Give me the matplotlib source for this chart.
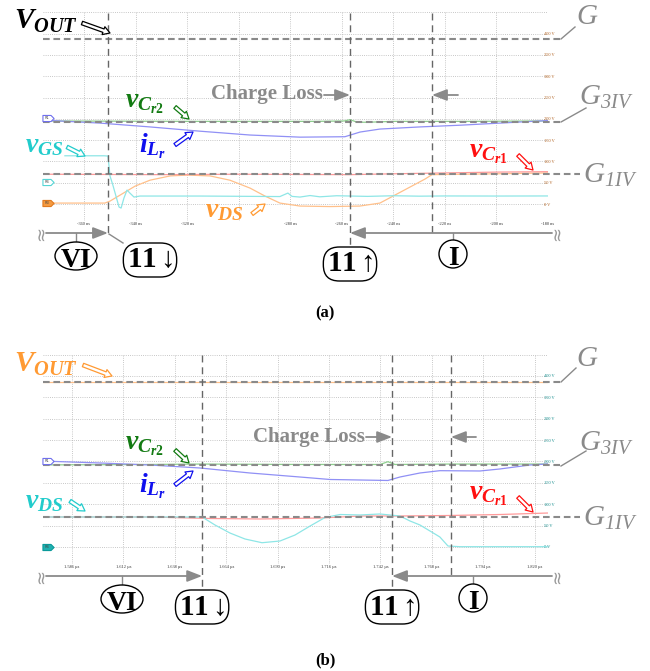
import numpy as np
import matplotlib
matplotlib.use('Agg')
import matplotlib.pyplot as plt
from matplotlib.patches import FancyArrowPatch, Ellipse
from matplotlib.path import Path

plt.rcParams['font.family'] = ['Liberation Serif', 'DejaVu Sans']
plt.rcParams['mathtext.fontset'] = 'custom'
plt.rcParams['mathtext.it'] = 'Liberation Serif:italic:bold'
plt.rcParams['mathtext.rm'] = 'Liberation Serif:bold'
plt.rcParams['mathtext.bf'] = 'Liberation Serif:bold'
plt.rcParams['mathtext.sf'] = 'Liberation Serif:italic'

# ---------------- shared scope scale ----------------
volt_ticks = [0, 50, 100, 150, 200, 250, 300, 350, 400, 450]
volt_labels = ['0 V', '50 V', '100 V', '150 V', '200 V', '250 V', '300 V', '350 V', '400 V', '']

# ---------------- panel (a): time in ns ----------------
a_xlim = (-375.9, -180.0)
a_xticks = [-360, -340, -320, -300, -280, -260, -240, -220, -200, -180]
a_xlabels = ['-360 ns', '-340 ns', '-320 ns', '', '-280 ns', '-260 ns',
             '-240 ns', '-220 ns', '-200 ns', '-180 ns']
a_events = [-350.7, -256.8, -225.0]
a_G, a_G3, a_G1 = 387, 193, 70

a_vcr2_t = [-375.9, -320, -270, -259, -256.8, -254, -250, -240, -210, -180]
a_vcr2_v = [195, 194, 194, 195, 198, 192, 192, 194, 194, 195]

a_ilr_t = [-375.9, -353.8, -334.4, -315.0, -295.6, -276.2, -258.8, -252.9,
           -245.2, -229.7, -214.2, -198.6, -180.0]
a_ilr_v = [197, 190, 181, 171, 162, 157, 158, 169, 176, 181, 185, 190, 196]

a_vgs_t = [-367.4, -352.2, -350.7, -349.9, -348.8, -347.6, -346.4, -345.6,
           -344.5, -343.3, -342.2, -340.6, -338.3, -315.0, -284.0, -280.9,
           -279.3, -276.2, -272.3, -268.5, -262, -250, -240, -230, -220, -200, -180]
a_vgs_v = [113.3, 113.3, 112.6, 65.7, 44.6, 18.8, -7.0, -9.4, 14.1, 32.8, 25.8,
           16.4, 18.8, 18.8, 17.6, 25.8, 18.0, 16.4, 20.0, 17.0, 19.5, 18.0,
           19.5, 18.5, 19.0, 18.8, 19.0]

a_vds_t = [-375.9, -351.9, -349.9, -346.0, -340.2, -334.4, -326.6, -319.7,
           -311.1, -303.4, -295.6, -289.8, -284.0, -276.2, -264.6, -253.0,
           -245.2, -239.4, -233.5, -227.7, -225.0, -200, -180]
a_vds_v = [2.3, 2.3, 7.0, 21.0, 42.0, 56.0, 66.0, 68.0, 66.0, 56.0, 37.5, 18.8,
           2.3, -4.7, -5.9, -4.7, 2.3, 21.0, 40.0, 58.7, 69.0, 71.0, 73.0]

a_vcr1_t = [-375.9, -330, -300, -257, -240, -220, -200, -180]
a_vcr1_v = [70, 69, 70, 69, 71, 73, 75, 76]

a_tags = [('R1', 201.8, '#7070ee', 'white'), ('R4', 51.6, '#55d5d5', 'white'),
          ('R3', 2.3, '#e07a20', '#f59a40')]

# ---------------- panel (b): time in ns ----------------
b_xlim = (1571.3, 1826.8)
b_xticks = [1586, 1612, 1638, 1664, 1690, 1716, 1742, 1768, 1794, 1820]
b_xlabels = ['1.586 µs', '1.612 µs', '1.638 µs', '1.664 µs', '1.690 µs',
             '1.716 µs', '1.742 µs', '1.768 µs', '1.794 µs', '1.820 µs']
b_events = [1651.8, 1747.9, 1777.7]
b_G, b_G3, b_G1 = 387, 192, 71

b_vout_t = [1571.3, 1650, 1750, 1826.8]
b_vout_v = [387, 387, 387, 387]

b_vcr2_t = [1571.3, 1625.5, 1650.7, 1701.3, 1741.8, 1745.8, 1749.4, 1777.2, 1826.8]
b_vcr2_v = [192, 193, 194, 193, 193, 199.5, 193, 194, 194]

b_ilr_t = [1571.3, 1600.2, 1625.5, 1650.7, 1676.0, 1701.3, 1716.5, 1745.8,
           1751.9, 1762.0, 1772.1, 1792.4, 1802.5, 1817.7, 1826.8]
b_ilr_v = [201, 196.5, 191.8, 184.8, 173.1, 163.7, 157.9, 155.6, 163.7, 173.1,
           178.5, 177.8, 182.5, 191.8, 194.2]

b_vds_t = [1571.3, 1651.8, 1658.3, 1665.9, 1673.5, 1682.1, 1691.2, 1698.8,
           1706.4, 1714.0, 1721.6, 1731.7, 1741.8, 1751.9, 1757.0, 1762.0,
           1767.1, 1772.1, 1776.2, 1782.3, 1826.8]
b_vds_v = [70.2, 70.2, 51.5, 32.7, 18.7, 10.0, 14.0, 28.0, 49.0, 69.0, 76.0,
           74.9, 77.2, 72.5, 60.8, 51.5, 37.4, 23.4, 2.3, 0.7, 0.7]

b_vcr1_t = [1571.3, 1625.5, 1655.8, 1681.1, 1711.4, 1731.7, 1751.9, 1777.2, 1802.5, 1826.8]
b_vcr1_v = [70.2, 70.2, 66.7, 65.5, 67.8, 72.5, 72.5, 73.7, 76.0, 79.5]

b_tags = [('R1', 201.0, '#7070ee', 'white'), ('R4', 0.7, '#0a9a9a', '#20b0b0')]

# ---------------- colours ----------------
c_blue_tr, c_green_tr, c_cyan_tr = '#9090f5', '#8fd08f', '#8ee6e6'
c_orange_tr, c_red_tr = '#ffc08a', '#ff9a9a'
c_gray = '#8a8a8a'
c_green, c_blue, c_cyan, c_orange, c_red = '#127a12', '#1010ee', '#22cccc', '#ff9a33', '#ff1010'

W, H = 650, 671
fig = plt.figure(figsize=(6.5, 6.71), dpi=100)


def rect(x0, y0, x1, y1):
    return [x0 / W, 1 - y1 / H, (x1 - x0) / W, (y1 - y0) / H]


axA = fig.add_axes(rect(43, 12.3, 548, 221.1))
axB = fig.add_axes(rect(43, 354.6, 548, 564.1))
ov = fig.add_axes([0, 0, 1, 1], zorder=5)
ov.set_xlim(0, W)
ov.set_ylim(H, 0)
ov.axis('off')

tag_path = Path([(-1, -0.55), (0.45, -0.55), (1, 0), (0.45, 0.55), (-1, 0.55), (-1, -0.55)],
                [Path.MOVETO, Path.LINETO, Path.LINETO, Path.LINETO, Path.LINETO, Path.CLOSEPOLY])


def scope(ax, xlim, xticks, xlabels, ycolor):
    ax.set_xlim(*xlim)
    ax.set_ylim(-40, 450)
    ax.set_xticks(xticks)
    ax.set_xticklabels(xlabels)
    ax.set_yticks(volt_ticks)
    ax.set_yticklabels(volt_labels)
    ax.yaxis.tick_right()
    ax.tick_params(axis='both', length=0, labelsize=3.2)
    ax.tick_params(axis='x', pad=0.5, labelcolor='#333333')
    ax.tick_params(axis='y', pad=-3, labelcolor=ycolor)
    for s in ax.spines.values():
        s.set_visible(False)
    ax.grid(True, color='#b5b5b5', lw=0.6, ls=(0, (1, 1.6)))
    ax.set_axisbelow(True)
    ax.set_facecolor('none')


def ext(xlim, px):
    return xlim[0] + (px - 43) / 505 * (xlim[1] - xlim[0])


def glines(ax, xlim, G, G3, G1):
    for v, px in ((G, 560), (G3, 560), (G1, 580)):
        ax.plot([xlim[0], ext(xlim, px)], [v, v], color=c_gray, lw=1.5,
                ls=(0, (3.2, 1.8)), clip_on=False, zorder=4)


def tags(ax, xlim, tl):
    x = ext(xlim, 48)
    for name, v, ec, fc in tl:
        ax.plot([x], [v], marker=tag_path, ms=8, mec=ec, mfc=fc, mew=0.8,
                clip_on=False, zorder=6)
        ax.text(x - (xlim[1] - xlim[0]) * 0.002, v, name, fontsize=2.5, color='#444444',
                ha='center', va='center', zorder=7, family='DejaVu Sans')


def px_of(ax, t):
    return ov.transData.inverted().transform(ax.transData.transform((t, 0)))[0]


def harrow(p0, p1, color):
    ov.add_patch(FancyArrowPatch(p0, p1, arrowstyle='simple,head_length=5,head_width=6,tail_width=2.6',
                                 mutation_scale=1, fc='white', ec=color, lw=0.9,
                                 shrinkA=0, shrinkB=0, zorder=8))


def garrow(p0, p1):
    ov.add_patch(FancyArrowPatch(p0, p1, arrowstyle='-|>,head_length=0.9,head_width=0.35',
                                 mutation_scale=10, fc=c_gray, ec=c_gray, lw=1.3,
                                 shrinkA=0, shrinkB=0, zorder=8))


def vline(x, y0, y1):
    ov.plot([x, x], [y0, y1], color='#666666', lw=1.0, ls=(0, (5, 3.5)), zorder=7)


def seg(p0, p1, color=c_gray, lw=1.0):
    ov.plot([p0[0], p1[0]], [p0[1], p1[1]], color=color, lw=lw, zorder=7)


def brk(x, y):
    ov.text(x, y, '≈', rotation=90, fontsize=13, color='#999999', ha='center',
            va='center', family='DejaVu Sans', zorder=8)


def boxed(x, y, s, style):
    ov.text(x, y, s, fontsize=21, fontweight='bold', ha='center', va='center', zorder=9,
            bbox=dict(boxstyle=style, fc='white', ec='black', lw=1.0))


def oval(x, y, w, h, s):
    ov.add_patch(Ellipse((x, y), w, h, fc='white', ec='black', lw=1.0, zorder=9))
    ov.text(x, y + 1.5, s, fontsize=20, fontweight='bold', ha='center',
            va='center_baseline', zorder=10)


def label(x, y, s, color, size=20):
    ov.text(x, y, s, fontsize=size, color=color, ha='center', va='center', zorder=9)


# ================= panel (a) =================
scope(axA, a_xlim, a_xticks, a_xlabels, '#b0601e')
axA.plot(a_vcr2_t, a_vcr2_v, color=c_green_tr, lw=0.9, zorder=3)
axA.plot(a_ilr_t, a_ilr_v, color=c_blue_tr, lw=0.9, zorder=3)
axA.plot(a_vds_t, a_vds_v, color=c_orange_tr, lw=0.9, zorder=2)
axA.plot(a_vcr1_t, a_vcr1_v, color=c_red_tr, lw=0.9, zorder=3)
axA.plot(a_vgs_t, a_vgs_v, color=c_cyan_tr, lw=0.9, zorder=3)
glines(axA, a_xlim, a_G, a_G3, a_G1)
tags(axA, a_xlim, a_tags)

ea = [px_of(axA, t) for t in a_events]
vline(ea[0], 13, 233)
vline(ea[1], 13, 247)
vline(ea[2], 13, 233)

label(46, 21, r'$V_{OUT}$', 'black', 21)
harrow((82, 23), (110, 33), 'black')
label(144, 104, r'$v_{C_{r2}}$', c_green)
harrow((175, 107), (189, 119), c_green)
label(152, 146, r'$i_{L_r}$', c_blue)
harrow((175, 145), (193, 132), c_blue)
label(44, 146, r'$v_{GS}$', c_cyan)
harrow((67, 147), (85, 156), c_cyan)
label(224, 211, r'$v_{DS}$', c_orange)
harrow((252, 214), (265, 204), c_orange)
label(488, 154, r'$v_{C_{r1}}$', c_red)
harrow((518, 155), (533, 170), c_red)

label(587, 17, r'$\mathsf{G}$', c_gray, 21)
seg((561, 39), (575, 27))
label(606, 97, r'$\mathsf{G_{3IV}}$', c_gray, 21)
seg((561, 122), (586, 108))
label(610, 175, r'$\mathsf{G_{1IV}}$', c_gray, 21)

ov.text(267, 94, 'Charge Loss', fontsize=15, fontweight='bold', color=c_gray,
        ha='center', va='center')
garrow((324, 95), (ea[1], 95))
garrow((458, 95), (ea[2], 95))

brk(41, 233)
garrow((46, 233), (ea[0], 233))
seg((76, 233), (76, 242))
oval(76, 256, 42, 28, 'VI')
seg((ea[0] + 1, 234), (123, 243))
boxed(150, 260, r'11$\downarrow$', 'round,pad=0.12,rounding_size=0.55')
brk(557, 233)
garrow((552, 233), (ea[1], 233))
seg((453, 233), (453, 240))
oval(453, 254, 28, 28, 'I')
boxed(350, 264, r'11$\uparrow$', 'round,pad=0.12,rounding_size=0.55')
ov.text(325, 313, '(a)', fontsize=12, fontweight='bold', ha='center', va='center')

# ================= panel (b) =================
scope(axB, b_xlim, b_xticks, b_xlabels, '#108a8a')
axB.plot(b_vout_t, b_vout_v, color=c_orange_tr, lw=0.9, zorder=3)
axB.plot(b_vcr2_t, b_vcr2_v, color=c_green_tr, lw=0.9, zorder=3)
axB.plot(b_ilr_t, b_ilr_v, color=c_blue_tr, lw=0.9, zorder=3)
axB.plot(b_vcr1_t, b_vcr1_v, color=c_red_tr, lw=0.9, zorder=3)
axB.plot(b_vds_t, b_vds_v, color=c_cyan_tr, lw=0.9, zorder=3)
glines(axB, b_xlim, b_G, b_G3, b_G1)
tags(axB, b_xlim, b_tags)

eb = [px_of(axB, t) for t in b_events]
vline(eb[0], 355, 590)
vline(eb[1], 355, 590)
vline(eb[2], 355, 576)

label(46, 364, r'$V_{OUT}$', c_orange, 21)
harrow((83, 365), (112, 376), c_orange)
label(144, 446, r'$v_{C_{r2}}$', c_green)
harrow((175, 450), (189, 463), c_green)
label(152, 486, r'$i_{L_r}$', c_blue)
harrow((175, 485), (193, 471), c_blue)
label(44, 502, r'$v_{DS}$', c_cyan)
harrow((70, 501), (85, 511), c_cyan)
label(488, 496, r'$v_{C_{r1}}$', c_red)
harrow((518, 497), (533, 512), c_red)

label(587, 359, r'$\mathsf{G}$', c_gray, 21)
seg((561, 382), (576, 368))
label(606, 443, r'$\mathsf{G_{3IV}}$', c_gray, 21)
seg((561, 466), (586, 451))
label(610, 518, r'$\mathsf{G_{1IV}}$', c_gray, 21)

ov.text(309, 437, 'Charge Loss', fontsize=15, fontweight='bold', color=c_gray,
        ha='center', va='center')
garrow((366, 437), (eb[1], 437))
garrow((476, 437), (eb[2], 437))

brk(41, 576)
garrow((46, 576), (eb[0], 576))
seg((122, 576), (122, 585))
oval(122, 599, 42, 28, 'VI')
boxed(eb[0], 607, r'11$\downarrow$', 'round,pad=0.12,rounding_size=0.55')
brk(557, 576)
garrow((552, 576), (eb[1], 576))
seg((473, 576), (473, 584))
oval(473, 598, 28, 28, 'I')
boxed(eb[1], 607, r'11$\uparrow$', 'round,pad=0.12,rounding_size=0.55')
ov.text(325, 660, '(b)', fontsize=12, fontweight='bold', ha='center', va='center')

fig.savefig('out.png', dpi=100)
